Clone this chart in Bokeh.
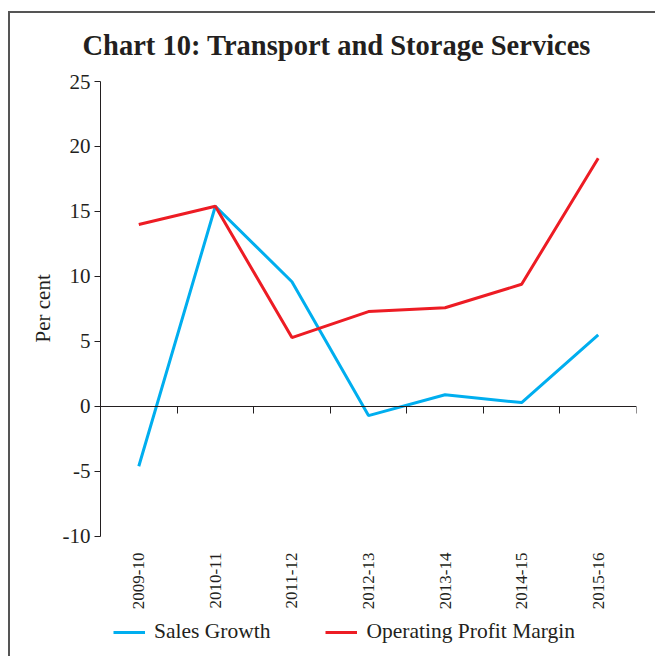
import math
from bokeh.plotting import figure
from bokeh.models import Range1d, FixedTicker, LinearAxis, Legend, LegendItem, InlineStyleSheet, Title
from bokeh.embed import file_html
from bokeh.resources import INLINE

years = ["2009-10", "2010-11", "2011-12", "2012-13", "2013-14", "2014-15", "2015-16"]
sales_growth = [-4.6, 15.4, 9.6, -0.7, 0.9, 0.3, 5.5]
op_margin = [14.0, 15.4, 5.3, 7.3, 7.6, 9.4, 19.1]
y_ticks = [-10, -5, 0, 5, 10, 15, 20, 25]

FONT = "Liberation Serif"
AX = "#231f20"

x = [i + 0.5 for i in range(len(years))]
y_lo, y_hi = y_ticks[0], y_ticks[-1]
# extra room under the axis (in data units) for the category labels and legend
pad_units = 8.77

p = figure(width=655, height=656, output_backend="svg", toolbar_location=None,
           x_range=Range1d(0, len(years)), y_range=Range1d(y_lo - pad_units, y_hi),
           min_border_left=100, min_border_right=19, min_border_top=81,
           min_border_bottom=6)
p.border_fill_color = None
p.stylesheets = [InlineStyleSheet(css=(
    ":host { background-image: linear-gradient(#555555, #555555), linear-gradient(#555555, #555555);"
    " background-size: 2px 100%, 100% 2px; background-position: 8px 11px, 8px 11px;"
    " background-repeat: no-repeat; }"))]
p.outline_line_color = None
p.background_fill_color = None
p.xgrid.visible = False
p.ygrid.visible = False
p.xaxis.visible = False

p.title.text = "Chart 10: Transport and Storage Services"
p.title.text_font = FONT
p.title.text_font_size = "28.5px"
p.title.text_font_style = "bold"
p.title.align = "left"
p.title.offset = -18
p.title.text_color = "#231f20"
p.title.standoff = 42

# category labels axis, hanging under the bottom of the value axis
lab_axis = LinearAxis(fixed_location=y_lo, ticker=FixedTicker(ticks=x),
                      major_label_overrides={xi: y for xi, y in zip(x, years)})
lab_axis.axis_line_color = None
lab_axis.major_tick_line_color = None
lab_axis.minor_tick_line_color = None
lab_axis.major_label_orientation = math.pi / 2
lab_axis.major_label_text_font = FONT
lab_axis.major_label_text_font_size = "17px"
lab_axis.major_label_text_color = AX
lab_axis.major_label_standoff = 10
p.add_layout(lab_axis, "below")

# zero line axis with ticks between categories
zero_axis = LinearAxis(fixed_location=0, ticker=FixedTicker(ticks=list(range(len(years) + 1))))
zero_axis.axis_line_color = AX
zero_axis.axis_line_width = 1.2
zero_axis.major_tick_line_color = AX
zero_axis.major_tick_in = 0
zero_axis.major_tick_out = 7
zero_axis.minor_tick_line_color = None
zero_axis.major_label_text_alpha = 0
zero_axis.major_label_text_font_size = "1px"
zero_axis.major_label_standoff = 0
p.add_layout(zero_axis, "below")

yax = p.yaxis[0]
yax.bounds = (y_lo, y_hi)
yax.ticker = FixedTicker(ticks=y_ticks)
yax.major_label_overrides = {t: str(t) for t in y_ticks}
yax.axis_line_color = AX
yax.major_tick_line_color = AX
yax.major_tick_in = 0
yax.major_tick_out = 6
yax.minor_tick_line_color = None
yax.major_label_text_font = FONT
yax.major_label_text_font_size = "21px"
yax.major_label_text_color = AX
yax.major_label_standoff = 4

ylabel = Title(text="Per cent", align="left", offset=308, standoff=9,
               text_font=FONT, text_font_size="21px", text_font_style="normal",
               text_color=AX)
p.add_layout(ylabel, "left")

r1 = p.line(x, sales_growth, line_color="#00aeef", line_width=3)
r2 = p.line(x, op_margin, line_color="#ed1c24", line_width=3)

legend = Legend(items=[LegendItem(label="Sales Growth", renderers=[r1]),
                       LegendItem(label="Operating Profit Margin", renderers=[r2])],
                orientation="horizontal", location=(13, 6))
legend.label_text_font = FONT
legend.label_text_font_size = "21.5px"
legend.label_text_color = AX
legend.glyph_width = 32
legend.label_standoff = 9
legend.spacing = 55
legend.padding = 0
legend.margin = 0
legend.border_line_color = None
legend.background_fill_alpha = 0
p.add_layout(legend, "center")

open("out.html", "w").write(file_html(p, INLINE))
